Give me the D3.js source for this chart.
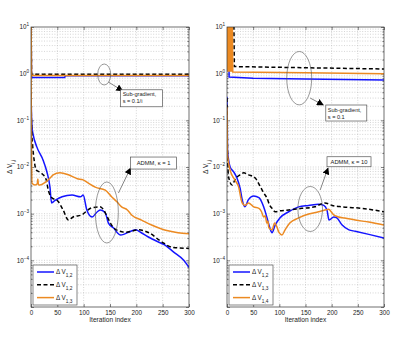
<!DOCTYPE html>
<html>
<head>
<meta charset="utf-8">
<script src="https://cdn.jsdelivr.net/npm/d3@7"></script>
<style>
  body { margin: 0; background: #fff; }
  svg { display: block; font-family: "Liberation Sans", Arial, sans-serif; }
</style>
</head>
<body>
<svg></svg>
<script>
let iterTicks = [0, 50, 100, 150, 200, 250, 300];
let decadeTicks = [1e1, 1e0, 1e-1, 1e-2, 1e-3, 1e-4];

// left panel: sub-gradient s = 0.1/i, ADMM kappa = 1   ([iteration, value])
let leftSubBlue = [[0, 20], [1, 0.83], [64, 0.83], [65, 0.9], [300, 0.9]];
let leftSubBlack = [[0, 20], [1, 0.97], [300, 0.97]];
let leftSubOrange = [[0, 20], [1, 0.91], [300, 0.91]];

let leftAdmmBlue = [[0, 0.4], [1, 0.12], [2, 0.07], [4, 0.05], [11, 0.027], [23, 0.014], [30, 0.008],
  [36, 0.0037], [39, 0.0017], [45, 0.0019], [59, 0.0023], [78, 0.0025], [94, 0.0023], [99, 0.0025],
  [106, 0.0012], [116, 0.00085], [126, 0.0011], [132, 0.0012], [141, 0.00104], [147, 0.00063],
  [157, 0.00049], [164, 0.00039], [170, 0.00035], [176, 0.00036], [185, 0.0004], [199, 0.00045],
  [208, 0.0004], [222, 0.00032], [241, 0.00025], [252, 0.00022], [271, 0.00015], [290, 0.0001], [300, 0.00007]];
let leftAdmmBlack = [[0, 0.4], [1, 0.08], [3, 0.03], [6, 0.014], [10, 0.0086], [19, 0.0075], [29, 0.0053],
  [32, 0.0035], [38, 0.0023], [52, 0.0018], [61, 0.0012], [71, 0.00073], [80, 0.00085], [96, 0.00094],
  [115, 0.00133], [131, 0.0014], [138, 0.0012], [143, 0.00094], [153, 0.00057], [162, 0.00045],
  [180, 0.0004], [204, 0.00045], [224, 0.00039], [248, 0.00025], [268, 0.00019], [300, 0.00018]];
let leftAdmmOrange = [[0, 2], [1, 0.02], [2, 0.0045], [8, 0.0041], [12, 0.0044], [13, 0.0055], [14, 0.0042],
  [17, 0.0041], [27, 0.0047], [38, 0.0061], [42, 0.0068], [55, 0.0075], [71, 0.0068], [88, 0.0056],
  [99, 0.0053], [109, 0.0045], [122, 0.0037], [141, 0.0032], [153, 0.0023], [163, 0.0018], [172, 0.0014],
  [183, 0.0012], [191, 0.00094], [210, 0.00073], [229, 0.00057], [248, 0.00047], [260, 0.00043],
  [279, 0.00039], [300, 0.00037]];

// right panel: sub-gradient s = 0.1, ADMM kappa = 10
let rightSubBlue = [[0, 20], [3, 20], [4, 0.85], [50, 0.8], [150, 0.77], [300, 0.73]];
let rightSubBlack = [[0, 20], [13, 20], [14, 1.42], [150, 1.34], [300, 1.26]];
let rightSubOrange = [[0, 20], [1, 1.1], [2, 20], [3, 1.1], [4, 20], [5, 1.1], [6, 20], [7, 1.1],
  [8, 20], [9, 1.1], [10, 20], [11, 1.08], [150, 1.04], [300, 1.0]];

let rightAdmmBlue = [[0, 0.32], [1, 0.023], [6, 0.01], [13, 0.0078], [19, 0.0058], [25, 0.0035], [29, 0.002],
  [34, 0.0014], [41, 0.002], [51, 0.0024], [61, 0.0022], [70, 0.0014], [76, 0.00085], [82, 0.00049],
  [86, 0.00039], [92, 0.00057], [101, 0.00081], [118, 0.0011], [137, 0.0014], [156, 0.0015], [175, 0.0016],
  [185, 0.0015], [191, 0.0012], [195, 0.00073], [204, 0.00085], [210, 0.00081], [220, 0.00057],
  [233, 0.00045], [245, 0.00042], [271, 0.00036], [300, 0.0003]];
let rightAdmmBlack = [[0, 0.3], [1, 0.02], [3, 0.0061], [10, 0.0041], [15, 0.0053], [19, 0.0061], [25, 0.0068],
  [32, 0.0075], [41, 0.0068], [54, 0.0058], [63, 0.0039], [70, 0.0028], [76, 0.0022], [82, 0.0015],
  [86, 0.0013], [92, 0.0011], [101, 0.00115], [118, 0.0012], [143, 0.0013], [168, 0.0014], [187, 0.0017],
  [201, 0.0015], [220, 0.0014], [258, 0.0013], [300, 0.0011]];
let rightAdmmOrange = [[0, 0.19], [1, 0.018], [6, 0.0086], [15, 0.0053], [22, 0.0038], [29, 0.0017],
  [34, 0.0015], [41, 0.0017], [51, 0.0014], [61, 0.0013], [66, 0.0011], [70, 0.00085], [73, 0.0009],
  [76, 0.00063], [78, 0.0007], [80, 0.0005], [86, 0.00045], [91, 0.00063], [96, 0.0005], [99, 0.0004],
  [105, 0.00035], [111, 0.00045], [120, 0.00063], [137, 0.00081], [156, 0.00098], [175, 0.0011],
  [187, 0.0012], [194, 0.00125], [204, 0.00094], [213, 0.00085], [225, 0.00081], [245, 0.00073],
  [271, 0.00066], [300, 0.00057]];

let leftLegend = ["1,2", "1,2", "1,3"];
let rightLegend = ["1,2", "1,3", "1,4"];

let width = 415;
let height = 344;
let plotTop = 27;
let plotBottom = 307;

let colors = ["#1414ff", "#000000", "#ec8a22"];
let dashes = [null, "4,2.5", null];

let svg = d3.select("svg").attr("width", width).attr("height", height);

let panels = [
  {
    id: "L", x0: 31, x1: 189,
    sub: [leftSubBlue, leftSubBlack, leftSubOrange],
    admm: [leftAdmmBlue, leftAdmmBlack, leftAdmmOrange],
    legend: leftLegend,
    notes: [
      { c: [139, 0.96], rx: 6.5, ry: 10.5, from: [147, 0.66], to: [174, 0.43], box: [-2, -1, 42, 17],
        lines: ["Sub-gradient,", "s = 0.1/i"] },
      { c: [144, 0.00106], rx: 11.5, ry: 30.5, from: [166, 0.00277], to: [189, 0.0095], box: [0, -11, 46, 12],
        lines: ["ADMM, \u03ba = 1"] }
    ]
  },
  {
    id: "R", x0: 227, x1: 384,
    sub: [rightSubBlue, rightSubBlack, rightSubOrange],
    admm: [rightAdmmBlue, rightAdmmBlack, rightAdmmOrange],
    legend: rightLegend,
    notes: [
      { c: [138, 0.8], rx: 12.5, ry: 26.7, from: [159, 0.3], to: [184, 0.213], box: [2.5, 0, 41, 16],
        lines: ["Sub-gradient,", "s = 0.1"] },
      { c: [159, 0.00126], rx: 12.3, ry: 22.5, from: [178, 0.0032], to: [193, 0.0095], box: [-1, -11.3, 44, 10],
        lines: ["ADMM, \u03ba = 10"] }
    ]
  }
];

let yScale = d3.scaleLog().domain([1e-5, 1e1]).range([plotBottom, plotTop]);

let defs = svg.append("defs");
defs.append("marker")
  .attr("id", "arrow")
  .attr("viewBox", "0 0 10 10")
  .attr("refX", 9).attr("refY", 5)
  .attr("markerWidth", 7).attr("markerHeight", 7)
  .attr("markerUnits", "userSpaceOnUse")
  .attr("orient", "auto")
  .append("path").attr("d", "M0,0 L10,5 L0,10 z").attr("fill", "#000");

let minorValues = [];
for (let e = -5; e < 1; e++) {
  for (let k = 2; k <= 9; k++) minorValues.push(k * Math.pow(10, e));
}
let majorValues = [1e-5].concat(decadeTicks);

let drawPanel = p => {
  let xScale = d3.scaleLinear().domain([0, 300]).range([p.x0, p.x1]);
  let g = svg.append("g");

  defs.append("clipPath").attr("id", "clip" + p.id)
    .append("rect")
    .attr("x", p.x0).attr("y", plotTop)
    .attr("width", p.x1 - p.x0).attr("height", plotBottom - plotTop);

  // dotted grid
  let grid = g.append("g").attr("stroke", "#b8b8b8").attr("stroke-width", 0.6).attr("stroke-dasharray", "1,1.6");
  grid.selectAll(".gx").data(iterTicks.slice(1, -1)).enter().append("line")
    .attr("x1", d => xScale(d)).attr("x2", d => xScale(d))
    .attr("y1", plotTop).attr("y2", plotBottom);
  grid.selectAll(".gy").data(minorValues.concat(decadeTicks.slice(1))).enter().append("line")
    .attr("x1", p.x0).attr("x2", p.x1)
    .attr("y1", d => yScale(d)).attr("y2", d => yScale(d));

  // axes with inward ticks
  let axisStyle = a => {
    a.select(".domain").remove();
    a.selectAll("line").attr("stroke", "#333").attr("stroke-width", 0.6);
  };
  g.append("g").attr("transform", "translate(0," + plotBottom + ")")
    .call(d3.axisBottom(xScale).tickValues(iterTicks).tickSize(-3).tickPadding(4))
    .call(axisStyle)
    .selectAll("text").attr("font-size", 6.3).attr("fill", "#222").attr("font-family", null);
  g.append("g").attr("transform", "translate(0," + plotTop + ")")
    .call(d3.axisTop(xScale).tickValues(iterTicks).tickSize(-3).tickFormat(""))
    .call(axisStyle);
  [[p.x0, d3.axisLeft], [p.x1, d3.axisRight]].forEach(([pos, ax]) => {
    g.append("g").attr("transform", "translate(" + pos + ",0)")
      .call(ax(yScale).tickValues(majorValues).tickSize(-3).tickFormat(""))
      .call(axisStyle);
    g.append("g").attr("transform", "translate(" + pos + ",0)")
      .call(ax(yScale).tickValues(minorValues).tickSize(-1.6).tickFormat(""))
      .call(axisStyle);
  });

  // y tick labels as 10^n
  let ylab = g.append("g").attr("font-size", 6.3).attr("fill", "#222");
  decadeTicks.forEach(d => {
    let t = ylab.append("text")
      .attr("x", p.x0 - 2)
      .attr("y", yScale(d) + 2.2)
      .attr("text-anchor", "end");
    t.append("tspan").text("10");
    t.append("tspan").attr("dy", -3).attr("font-size", 4.6)
      .text(String(Math.round(Math.log10(d))).replace("-", "\u2212"));
  });

  // lines
  let lines = g.append("g").attr("clip-path", "url(#clip" + p.id + ")").attr("fill", "none");
  let subLine = d3.line().x(d => xScale(d[0])).y(d => yScale(d[1]));
  let admmLine = d3.line().x(d => xScale(d[0])).y(d => yScale(d[1])).curve(d3.curveMonotoneX);
  p.sub.forEach((s, i) => {
    lines.append("path").attr("d", subLine(s))
      .attr("stroke", colors[i]).attr("stroke-width", 1.5)
      .attr("stroke-dasharray", dashes[i]);
  });
  p.admm.forEach((s, i) => {
    lines.append("path").attr("d", admmLine(s))
      .attr("stroke", colors[i]).attr("stroke-width", 1.5)
      .attr("stroke-dasharray", dashes[i]);
  });

  // frame
  g.append("rect")
    .attr("x", p.x0).attr("y", plotTop)
    .attr("width", p.x1 - p.x0).attr("height", plotBottom - plotTop)
    .attr("fill", "none").attr("stroke", "#333").attr("stroke-width", 0.7);

  // annotations
  p.notes.forEach(n => {
    g.append("ellipse")
      .attr("cx", xScale(n.c[0])).attr("cy", yScale(n.c[1]))
      .attr("rx", n.rx).attr("ry", n.ry)
      .attr("fill", "none").attr("stroke", "#555").attr("stroke-width", 0.6);
    let tx = xScale(n.to[0]);
    let ty = yScale(n.to[1]);
    g.append("line")
      .attr("x1", xScale(n.from[0])).attr("y1", yScale(n.from[1]))
      .attr("x2", tx).attr("y2", ty)
      .attr("stroke", "#333").attr("stroke-width", 0.6)
      .attr("marker-end", "url(#arrow)");
    let bx = tx + n.box[0];
    let by = ty + n.box[1];
    g.append("rect")
      .attr("x", bx).attr("y", by)
      .attr("width", n.box[2]).attr("height", n.box[3])
      .attr("fill", "#fff").attr("stroke", "#555").attr("stroke-width", 0.7);
    if (n.lines.length == 1) {
      g.append("text")
        .attr("x", bx + n.box[2] / 2).attr("y", by + n.box[3] / 2 + 2)
        .attr("text-anchor", "middle").attr("font-size", 5.8).attr("fill", "#222")
        .text(n.lines[0]);
    } else {
      n.lines.forEach((l, i) => {
        g.append("text")
          .attr("x", bx + 2).attr("y", by + 6.5 + i * 7)
          .attr("font-size", 5.6).attr("fill", "#222")
          .text(l);
      });
    }
  });

  // legend
  let lx = p.x0 + 2;
  let ly = 265;
  let lg = g.append("g");
  lg.append("rect")
    .attr("x", lx).attr("y", ly).attr("width", 44).attr("height", 40)
    .attr("fill", "#fff").attr("stroke", "#555").attr("stroke-width", 0.7);
  p.legend.forEach((sub, i) => {
    let yy = ly + 7 + i * 12.8;
    lg.append("line")
      .attr("x1", lx + 4).attr("x2", lx + 21)
      .attr("y1", yy).attr("y2", yy)
      .attr("stroke", colors[i]).attr("stroke-width", 1.5)
      .attr("stroke-dasharray", dashes[i]);
    let t = lg.append("text")
      .attr("x", lx + 23).attr("y", yy + 2)
      .attr("font-size", 6.3).attr("fill", "#222");
    t.append("tspan").text("\u0394 V");
    t.append("tspan").attr("dy", 3.2).attr("font-size", 4.8).text(sub);
  });

  // axis titles
  g.append("text")
    .attr("x", (p.x0 + p.x1) / 2).attr("y", 322)
    .attr("text-anchor", "middle").attr("font-size", 6.6).attr("fill", "#222")
    .text("Iteration index");
  let yt = g.append("text")
    .attr("transform", "translate(" + (p.x0 - 19) + ",167) rotate(-90)")
    .attr("text-anchor", "middle").attr("font-size", 6.6).attr("fill", "#222");
  yt.append("tspan").text("\u0394 V");
  yt.append("tspan").attr("dy", 2.5).attr("font-size", 5).text("i,j");
};

panels.forEach(drawPanel);
</script>
</body>
</html>
